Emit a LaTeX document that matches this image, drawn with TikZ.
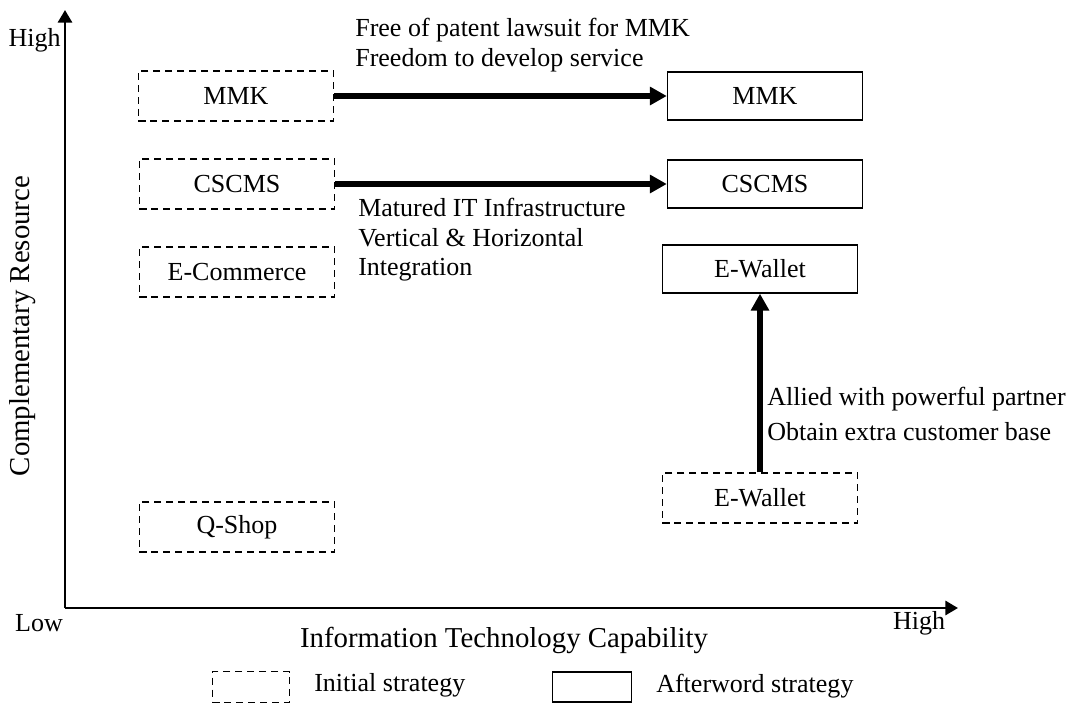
\documentclass[tikz,border=0pt]{standalone}
\usepackage{fontspec}
\setmainfont{Liberation Serif}
\usetikzlibrary{arrows.meta, positioning}

\begin{document}
\begin{tikzpicture}[x=0.025cm, y=-0.025cm,
    txt/.style={font=\fontsize{18.5}{21}\selectfont, inner sep=0pt},
    initbox/.style={draw, line width=1pt, dash pattern=on 5pt off 3.5pt, minimum width=4.875cm, minimum height=1.25cm, font=\fontsize{18.5}{21}\selectfont},
    afterbox/.style={draw, line width=1pt, minimum width=4.875cm, minimum height=1.2cm, font=\fontsize{18.5}{21}\selectfont},
    flow/.style={line width=4.5pt, -{Triangle[length=12pt, width=12.5pt]}},
    axis/.style={line width=2pt, -{Triangle[length=9pt, width=10pt]}}]
    \useasboundingbox (0,0) rectangle (1070,704);

    % Axes
    \coordinate (origin) at (65,608);
    \coordinate (ytip) at (65,10);
    \coordinate (xtip) at (958,608);
    \draw[axis] (origin) -- (ytip);
    \draw[axis] (origin) -- (xtip);
    \node[txt, anchor=east] (yhigh) at (61,40) {High};
    \node[txt] (xlow) at (39,623) {Low};
    \node[txt] (xhigh) at (919,623) {High};
    \node[txt, font=\fontsize{20.5}{24}\selectfont] (xtitle) at (504,640) {Information Technology Capability};
    \node[txt, font=\fontsize{20.5}{24}\selectfont, rotate=90] (ytitle) at (23,326) {Complementary Resource};

    % Initial strategy
    \node[initbox] (mmkA) at (236,96) {MMK};
    \node[initbox] (cscmsA) at (237,184) {CSCMS};
    \node[initbox] (ecomA) at (237,272) {E-Commerce};
    \node[initbox] (qshopA) at (237,527) {Q-Shop};
    \node[initbox] (walletA) at (760,498) {E-Wallet};

    % Afterword strategy
    \node[afterbox] (mmkB) at (765,96) {MMK};
    \node[afterbox] (cscmsB) at (765,184) {CSCMS};
    \node[afterbox] (walletB) at (760,269) {E-Wallet};

    % Moves
    \draw[flow] (mmkA) -- (mmkB);
    \draw[flow] (cscmsA) -- (cscmsB);
    \draw[flow] (walletA) -- (walletB);

    \node[txt, anchor=west, align=left] (mmknote) at (355,45) {Free of patent lawsuit for MMK\\Freedom to develop service};
    \node[txt, anchor=west, align=left] (cscmsnote) at (358,240) {Matured IT Infrastructure\\Vertical \& Horizontal\\Integration};
    \node[txt, anchor=west, align=left, font=\fontsize{18.5}{24.5}\selectfont] (walletnote) at (767,414) {Allied with powerful partner\\Obtain extra customer base};

    % Legend
    \node[draw, line width=1pt, dash pattern=on 5pt off 3.5pt, minimum width=1.925cm, minimum height=0.775cm] (leginit) at (251,687) {};
    \node[txt, anchor=west] (leginittxt) at (314,685) {Initial strategy};
    \node[draw, line width=1pt, minimum width=1.975cm, minimum height=0.75cm] (legafter) at (592,687) {};
    \node[txt, anchor=west] (legaftertxt) at (656,686) {Afterword strategy};
\end{tikzpicture}
\end{document}
